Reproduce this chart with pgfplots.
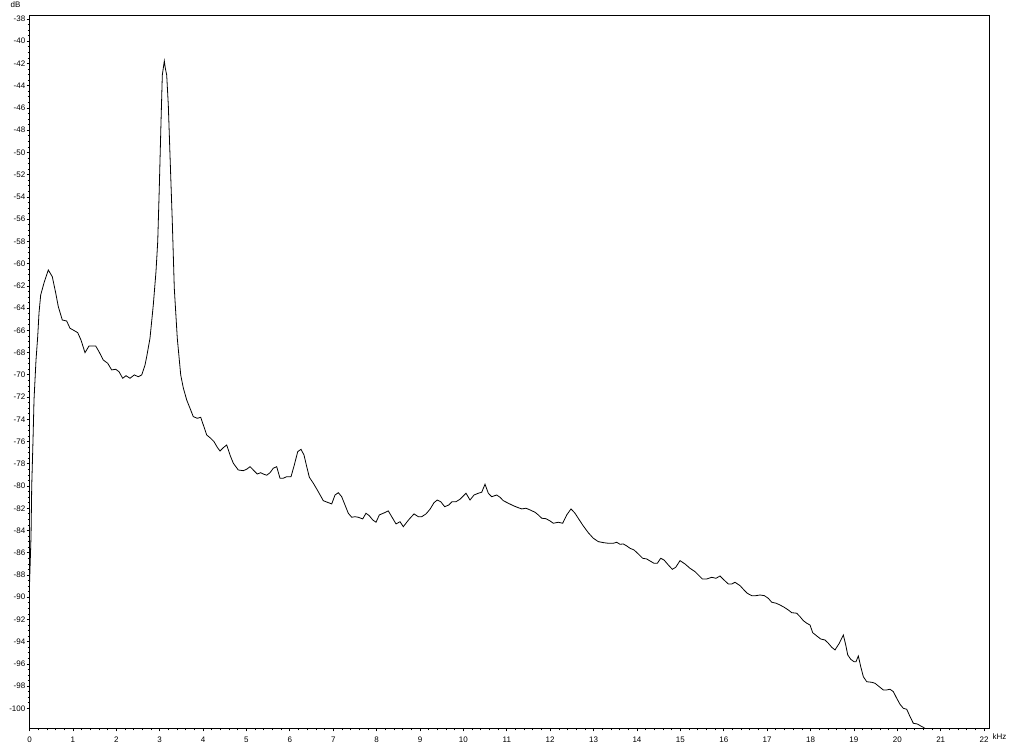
\documentclass[border=0pt]{standalone}
\usepackage{fontspec}
\setmainfont{Liberation Sans}
\usepackage{pgfplots}
\pgfplotsset{compat=1.18}
\begin{document}
\begin{tikzpicture}[x=1pt,y=1pt]
\useasboundingbox (-29.5,-16.7) rectangle (994.5,728.3);
\begin{axis}[
  name=ax, at={(0,0)}, anchor=south west,
  scale only axis, width=959.8pt, height=713.3pt,
  xmin=0, xmax=22.12, ymin=-101.79, ymax=-37.64,
  xtick={0,1,...,22}, ytick={-100,-98,...,-38},
  minor x tick num=4, minor y tick num=3,
  xtick pos=bottom, ytick pos=left,
  tick align=outside, major tick length=3pt, minor tick length=2pt,
  axis line style={line width=0.8pt, black},
  every tick/.style={black, line width=0.7pt},
  /pgf/number format/assume math mode=true,
  tick label style={font=\fontsize{8}{9}\selectfont},
  xticklabel style={anchor=north, inner sep=0pt, yshift=-5pt},
  yticklabel style={anchor=east, inner sep=0pt, xshift=-1pt},
]
\addplot[black, line width=0.8pt, sharp plot, no marks] coordinates {
(0.000,-88.90) (0.035,-84.56) (0.051,-80.06) (0.081,-75.86) (0.104,-72.26) (0.150,-68.67)
(0.189,-66.57) (0.219,-64.44) (0.258,-62.82) (0.334,-61.74) (0.433,-60.57) (0.525,-61.17)
(0.604,-62.64) (0.664,-63.87) (0.756,-65.07) (0.857,-65.16) (0.933,-65.81) (1.033,-66.03)
(1.111,-66.21) (1.187,-66.87) (1.279,-68.01) (1.371,-67.41) (1.526,-67.41) (1.602,-67.92)
(1.701,-68.67) (1.802,-68.96) (1.894,-69.56) (1.987,-69.50) (2.063,-69.72) (2.148,-70.31)
(2.224,-70.08) (2.316,-70.31) (2.415,-70.01) (2.507,-70.17) (2.586,-70.01) (2.662,-69.12)
(2.701,-68.37) (2.777,-66.71) (2.853,-63.72) (2.915,-60.72) (2.955,-58.03) (2.991,-53.22)
(3.031,-47.24) (3.061,-43.04) (3.107,-41.78) (3.130,-42.43) (3.162,-43.04) (3.199,-45.73)
(3.238,-50.23) (3.291,-56.23) (3.337,-62.22) (3.406,-66.71) (3.485,-70.01) (3.545,-71.18)
(3.623,-72.26) (3.699,-73.01) (3.775,-73.76) (3.867,-73.91) (3.946,-73.82) (4.006,-74.51)
(4.084,-75.41) (4.176,-75.71) (4.252,-76.01) (4.328,-76.52) (4.390,-76.85) (4.467,-76.55)
(4.545,-76.31) (4.621,-77.21) (4.697,-77.95) (4.812,-78.56) (4.927,-78.62) (5.006,-78.49)
(5.082,-78.26) (5.158,-78.56) (5.250,-78.92) (5.328,-78.80) (5.388,-78.92) (5.467,-79.03)
(5.543,-78.80) (5.619,-78.40) (5.697,-78.26) (5.773,-79.30) (5.849,-79.30) (5.928,-79.16)
(6.027,-79.16) (6.103,-78.11) (6.181,-76.91) (6.257,-76.70) (6.326,-77.21) (6.389,-78.26)
(6.449,-79.21) (6.541,-79.75) (6.633,-80.36) (6.711,-80.90) (6.771,-81.32) (6.863,-81.46)
(6.965,-81.61) (7.041,-80.81) (7.117,-80.60) (7.195,-80.96) (7.271,-81.71) (7.347,-82.45)
(7.426,-82.81) (7.502,-82.76) (7.578,-82.81) (7.679,-82.96) (7.755,-82.45) (7.831,-82.67)
(7.910,-83.05) (7.986,-83.26) (8.062,-82.60) (8.154,-82.45) (8.269,-82.24) (8.348,-82.76)
(8.447,-83.41) (8.539,-83.21) (8.615,-83.66) (8.693,-83.26) (8.769,-82.90) (8.862,-82.51)
(8.961,-82.76) (9.039,-82.76) (9.138,-82.51) (9.230,-82.09) (9.322,-81.50) (9.398,-81.26)
(9.477,-81.41) (9.569,-81.86) (9.661,-81.71) (9.737,-81.41) (9.829,-81.41) (9.922,-81.19)
(10.060,-80.65) (10.152,-81.26) (10.244,-80.81) (10.343,-80.65) (10.422,-80.56) (10.498,-79.84)
(10.574,-80.65) (10.652,-80.96) (10.767,-80.81) (10.843,-81.01) (10.920,-81.32) (11.035,-81.55)
(11.150,-81.77) (11.265,-81.95) (11.344,-82.06) (11.443,-82.00) (11.535,-82.15) (11.650,-82.36)
(11.726,-82.60) (11.805,-82.90) (11.904,-82.94) (11.996,-83.14) (12.072,-83.35) (12.187,-83.26)
(12.288,-83.35) (12.381,-82.60) (12.480,-82.06) (12.572,-82.45) (12.671,-83.05) (12.763,-83.59)
(12.878,-84.20) (12.994,-84.70) (13.109,-85.00) (13.224,-85.09) (13.339,-85.15) (13.455,-85.15)
(13.533,-85.06) (13.609,-85.24) (13.685,-85.21) (13.764,-85.39) (13.840,-85.60) (13.932,-85.75)
(14.031,-86.11) (14.132,-86.50) (14.224,-86.56) (14.301,-86.74) (14.393,-86.95) (14.469,-86.95)
(14.547,-86.50) (14.623,-86.65) (14.722,-87.10) (14.815,-87.49) (14.893,-87.31) (14.992,-86.71)
(15.107,-87.01) (15.222,-87.40) (15.338,-87.70) (15.414,-88.00) (15.506,-88.36) (15.607,-88.36)
(15.723,-88.21) (15.822,-88.30) (15.914,-88.09) (16.006,-88.45) (16.105,-88.81) (16.183,-88.81)
(16.259,-88.66) (16.375,-88.96) (16.467,-89.35) (16.543,-89.65) (16.644,-89.86) (16.743,-89.86)
(16.836,-89.80) (16.935,-89.86) (17.027,-90.10) (17.105,-90.45) (17.205,-90.54) (17.297,-90.70)
(17.390,-90.90) (17.488,-91.15) (17.566,-91.39) (17.681,-91.44) (17.758,-91.75) (17.834,-92.11)
(17.912,-92.34) (17.988,-92.50) (18.050,-93.19) (18.142,-93.48) (18.235,-93.76) (18.334,-93.85)
(18.410,-94.14) (18.488,-94.50) (18.564,-94.74) (18.663,-94.14) (18.756,-93.40) (18.811,-94.29)
(18.857,-95.19) (18.926,-95.58) (19.002,-95.80) (19.048,-95.80) (19.101,-95.28) (19.157,-96.25)
(19.217,-97.15) (19.295,-97.60) (19.410,-97.65) (19.486,-97.74) (19.562,-97.98) (19.677,-98.34)
(19.756,-98.34) (19.832,-98.28) (19.908,-98.49) (19.986,-99.09) (20.062,-99.63) (20.138,-99.99)
(20.217,-100.08) (20.293,-100.74) (20.369,-101.34) (20.461,-101.40) (20.540,-101.58) (20.599,-101.70)
(20.753,-102.12)
};
\end{axis}
\node[font=\fontsize{8}{9}\selectfont, inner sep=0pt] at ([xshift=-14pt,yshift=10pt]ax.north west) {dB};
\node[font=\fontsize{8}{9}\selectfont, inner sep=0pt, anchor=north west] at ([xshift=3pt,yshift=-5pt]ax.south east) {kHz};
\end{tikzpicture}
\end{document}
